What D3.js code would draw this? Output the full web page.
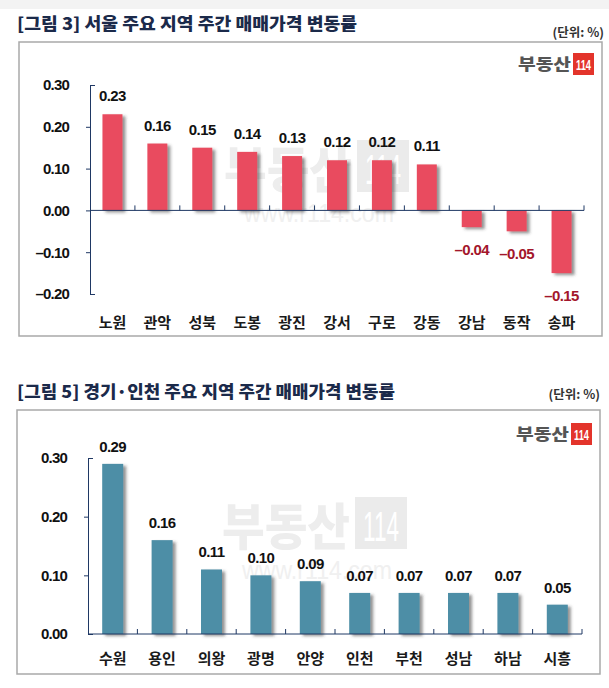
<!DOCTYPE html>
<html><head><meta charset="utf-8">
<script src="https://cdn.jsdelivr.net/npm/d3@7"></script>
<style>
body{margin:0;background:#fff;}
svg{display:block;}
</style></head>
<body>
<script>
// ---- data ----
const seoulTitle = "[그림 3] 서울 주요 지역 주간 매매가격 변동률";
const seoulCats = ["노원","관악","성북","도봉","광진","강서","구로","강동","강남","동작","송파"];
const seoulVals = [0.23,0.16,0.15,0.14,0.13,0.12,0.12,0.11,-0.04,-0.05,-0.15];
const seoulTicks = [-0.20,-0.10,0.00,0.10,0.20,0.30];

const gyeongTitle = "[그림 5] 경기·인천 주요 지역 주간 매매가격 변동률";
const gyeongCats = ["수원","용인","의왕","광명","안양","인천","부천","성남","하남","시흥"];
const gyeongVals = [0.29,0.16,0.11,0.10,0.09,0.07,0.07,0.07,0.07,0.05];
const gyeongTicks = [0.00,0.10,0.20,0.30];

const unitLabel = "(단위: %)";

// ---- drawing ----
const W = 609, H = 688;
const svg = d3.select("body").append("svg").attr("width", W).attr("height", H);
const defs = svg.append("defs");
const f = defs.append("filter").attr("id","shadow").attr("x","-30%").attr("y","-30%").attr("width","170%").attr("height","170%");
f.append("feDropShadow").attr("dx",3).attr("dy",2).attr("stdDeviation",1.6)
 .attr("flood-color","#3a3a3a").attr("flood-opacity",0.55);

svg.append("rect").attr("x",0).attr("y",0).attr("width",W).attr("height",9).attr("fill","#f3f3f3");

const KR = "'Noto Sans CJK KR', 'Noto Sans', sans-serif";
const NUM = "'Liberation Sans', Arial, sans-serif";
const fmt = d => (d < 0 ? "–" : "") + Math.abs(d).toFixed(2);

function chart(o) {
  const g = svg.append("g");
  // title
  g.append("text").attr("x", o.titleX).attr("y", o.titleY)
    .attr("font-family", KR).attr("font-weight", 900).attr("font-size", 17)
    .attr("fill", "#1b2a4a").attr("textLength", o.titleW).attr("lengthAdjust","spacingAndGlyphs")
    .text(o.title);
  g.append("text").attr("x", o.unitX).attr("y", o.unitY).attr("text-anchor","end")
    .attr("font-family", KR).attr("font-weight", 700).attr("font-size", 12.5)
    .attr("fill", "#333").text(unitLabel);
  // box
  g.append("rect").attr("x", o.box[0]).attr("y", o.box[1]).attr("width", o.box[2]-o.box[0]).attr("height", o.box[3]-o.box[1])
    .attr("fill","#fff").attr("stroke","#a9a9a9").attr("stroke-width",1.5);
  // logo
  const lg = g.append("g").attr("transform", `translate(${o.logo[0]},${o.logo[1]})`);
  lg.append("text").attr("x",0).attr("y",0).attr("text-anchor","end")
    .attr("font-family",KR).attr("font-weight",900).attr("font-size",16).attr("fill","#555")
    .attr("textLength",53).attr("lengthAdjust","spacingAndGlyphs").text("부동산");
  lg.append("rect").attr("x",2).attr("y",-17).attr("width",21).attr("height",22).attr("fill","#e3342b");
  lg.append("text").attr("x",12.5).attr("y",0).attr("text-anchor","middle")
    .attr("font-family",NUM).attr("font-weight",700).attr("font-size",14).attr("fill","#fff")
    .attr("textLength",15).attr("lengthAdjust","spacingAndGlyphs").text("114");
  // watermark
  const wm = g.append("g").attr("transform", `translate(${o.wm[0]},${o.wm[1]})`);
  wm.append("text").attr("x",0).attr("y",0).attr("font-family",KR).attr("font-weight",900)
    .attr("font-size",50).attr("fill","#ededed").attr("textLength",128).attr("lengthAdjust","spacingAndGlyphs").text("부동산");
  wm.append("rect").attr("x",133).attr("y",-48).attr("width",52).attr("height",52).attr("fill","#ebebeb");
  wm.append("text").attr("x",159).attr("y",-4).attr("text-anchor","middle").attr("font-family",NUM)
    .attr("font-size",42).attr("fill","#fff").attr("textLength",36).attr("lengthAdjust","spacingAndGlyphs").text("114");
  wm.append("text").attr("x",20).attr("y",34).attr("font-family",NUM).attr("font-size",26)
    .attr("fill","#f0f0f0").attr("textLength",150).attr("lengthAdjust","spacingAndGlyphs").text("www.r114.com");

  const x = d3.scaleBand().domain(o.cats).range(o.xr).paddingInner(o.pi).paddingOuter(o.pi/2);
  const y = d3.scaleLinear().domain(o.yd).range(o.yr);
  const data = o.cats.map((c,i)=>({c, v:o.vals[i]}));

  // bars
  g.append("g").selectAll("rect").data(data).join("rect")
    .attr("x", d => x(d.c)).attr("width", x.bandwidth())
    .attr("y", d => Math.min(y(d.v), y(0))).attr("height", d => Math.abs(y(d.v)-y(0)))
    .attr("fill", o.color).attr("filter","url(#shadow)");

  // y axis
  const ya = g.append("g").attr("transform",`translate(${o.xr[0]},0)`)
    .call(d3.axisLeft(y).tickValues(o.ticks).tickSize(4).tickSizeOuter(0).tickFormat(fmt).tickPadding(17));
  ya.select(".domain").attr("stroke","#1f3864");
  ya.selectAll(".tick line").attr("stroke","#1f3864")
    .attr("x2", (d,i,n) => (i===0 || i===n.length-1) ? 5 : -4);
  ya.selectAll(".tick text").attr("font-family",NUM).attr("font-weight",700).attr("font-size",15)
    .attr("fill","#111").attr("letter-spacing","-0.8");

  // x axis at zero
  const xa = g.append("g").attr("transform",`translate(0,${y(0)})`);
  xa.append("line").attr("x1",o.xr[0]).attr("x2",o.xr[1]).attr("stroke","#1f3864");
  const step = x.step();
  xa.selectAll("line.t").data(o.cats).join("line").attr("class","t")
    .attr("x1",(d)=>x(d)-x.bandwidth()*0 + x.bandwidth() + step*o.pi/2)
    .attr("x2",(d)=>x(d) + x.bandwidth() + step*o.pi/2)
    .attr("y1",0).attr("y2",-5).attr("stroke","#1f3864");

  // category labels
  g.append("g").selectAll("text").data(data).join("text")
    .attr("x", d => x(d.c) + x.bandwidth()/2).attr("y", o.catY).attr("text-anchor","middle")
    .attr("font-family",KR).attr("font-weight",700).attr("font-size",15).attr("fill","#1a1a1a")
    .text(d => d.c);

  // value labels
  g.append("g").selectAll("text").data(data).join("text")
    .attr("x", d => x(d.c) + x.bandwidth()/2)
    .attr("y", d => d.v >= 0 ? y(d.v) - o.lblOff : y(d.v) + 28)
    .attr("text-anchor","middle").attr("font-family",NUM).attr("font-weight",700)
    .attr("font-size",15).attr("letter-spacing","-0.6")
    .attr("fill", d => d.v >= 0 ? "#111" : "#a3162b")
    .text(d => fmt(d.v));
}

chart({title:seoulTitle, titleX:17, titleY:30, titleW:340, unitX:604, unitY:37,
  box:[19,42,602,336], logo:[571,70], wm:[224,188],
  cats:seoulCats, vals:seoulVals, ticks:seoulTicks, xr:[90,584], pi:0.555,
  yd:[-0.2,0.3], yr:[294,85], color:"#e94b5e", catY:328, lblOff:13});

chart({title:gyeongTitle, titleX:17, titleY:398, titleW:378, unitX:600, unitY:399,
  box:[17,410,600,674], logo:[569,440], wm:[222,545],
  cats:gyeongCats, vals:gyeongVals, ticks:gyeongTicks, xr:[88,582], pi:0.575,
  yd:[0,0.3], yr:[634,458], color:"#4e8ea6", catY:664, lblOff:12});
</script>
</body></html>
